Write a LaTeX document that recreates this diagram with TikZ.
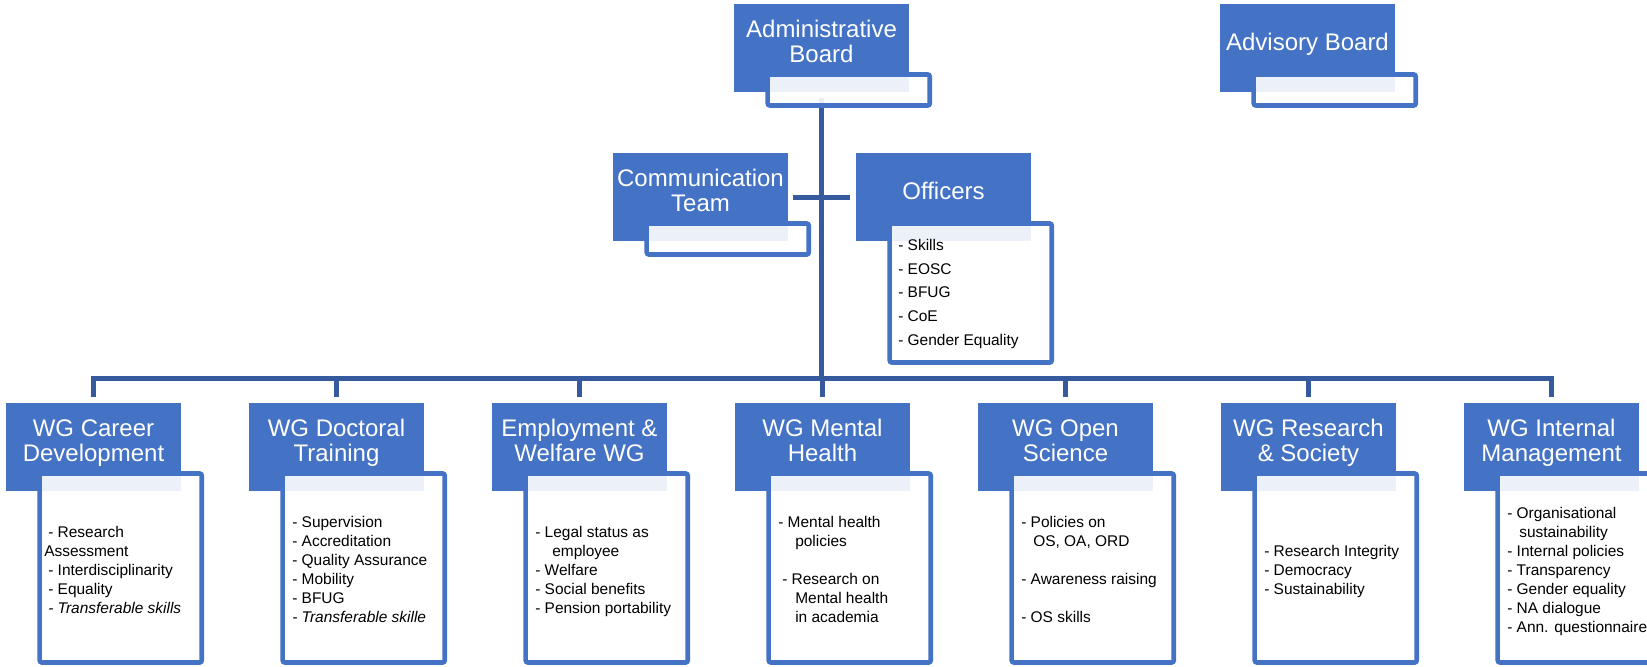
\documentclass[tikz,border=0pt]{standalone}
\usepackage{fontspec}
\setmainfont{Liberation Sans}
\definecolor{boxblue}{HTML}{4472C4}
\definecolor{lineblue}{HTML}{365A9E}
\pgfdeclarelayer{bg}
\pgfsetlayers{bg,main}
\tikzset{
  conn/.style={draw=lineblue, line width=3.75pt},
  bluebox/.style={fill=boxblue, draw=none, minimum width=131.25pt, minimum height=66pt, anchor=north west, inner sep=0pt, outer sep=0pt},
  whitebox/.style={draw=boxblue, line width=3.4pt, rounded corners=1.5pt, minimum width=121.5pt, anchor=north west, inner sep=0pt, outer sep=0pt},
  smallh/.style={minimum height=23.25pt},
  wgh/.style={minimum height=141.75pt},
  offh/.style={minimum height=104.25pt},
  title/.style={text=white, font=\fontsize{18}{18.75}\selectfont, align=center, inner sep=0pt},
  body/.style={font=\fontsize{11.6}{14.25}\selectfont, align=left, anchor=north west, inner sep=0pt},
  veil/.style={fill=white, opacity=0.9},
}
\newcommand\myveil[1]{\fill[veil] ([shift={(2.3,2.3)}]#1.north west) rectangle ([shift={(-2.3,-2.3)}]#1.south east);}
\newcommand\mydesc{\vphantom{p}}
\begin{document}
\begin{tikzpicture}[x=0.75pt,y=-0.75pt]
\useasboundingbox (0,0) rectangle (1647,667);
\clip (0,0) rectangle (1647,667);

% white boxes
\node[whitebox,smallh] (adminw) at (734+33.75,4+70.5) {};
\node[whitebox,smallh] (advw) at (1220+33.75,4+70.5) {};
\node[whitebox,smallh] (commw) at (613+33.75,153+70.5) {};
\node[whitebox,offh] (offw) at (856+33.75,153+70.5) {};
\node[whitebox,wgh] (wg1w) at (6+33.75,403+70.5) {};
\node[whitebox,wgh] (wg2w) at (249+33.75,403+70.5) {};
\node[whitebox,wgh] (wg3w) at (492+33.75,403+70.5) {};
\node[whitebox,wgh] (wg4w) at (735+33.75,403+70.5) {};
\node[whitebox,wgh] (wg5w) at (978+33.75,403+70.5) {};
\node[whitebox,wgh] (wg6w) at (1221+33.75,403+70.5) {};
\node[whitebox,wgh] (wg7w) at (1464+33.75,403+70.5) {};

% blue boxes
\node[bluebox] (admin) at (734,4) {};
\node[bluebox] (adv) at (1220,4) {};
\node[bluebox] (comm) at (613,153) {};
\node[bluebox] (off) at (856,153) {};
\node[bluebox] (wg1) at (6,403) {};
\node[bluebox] (wg2) at (249,403) {};
\node[bluebox] (wg3) at (492,403) {};
\node[bluebox] (wg4) at (735,403) {};
\node[bluebox] (wg5) at (978,403) {};
\node[bluebox] (wg6) at (1221,403) {};
\node[bluebox] (wg7) at (1464,403) {};

% veils
\myveil{adminw}\myveil{advw}\myveil{commw}\myveil{offw}
\myveil{wg1w}\myveil{wg2w}\myveil{wg3w}\myveil{wg4w}\myveil{wg5w}\myveil{wg6w}\myveil{wg7w}

% connectors
\begin{pgfonlayer}{bg}
\coordinate (bus) at (821.5,378);
\draw[conn] ([yshift=-4.5pt]admin.south) -- (bus);
\draw[conn] ([xshift=3.75pt]comm.east) -- ([xshift=-4.5pt]off.west);
\draw[conn] ([yshift=4.5pt]wg1.north) |- (bus) -| ([yshift=4.5pt]wg7.north);
\draw[conn] ([yshift=4.5pt]wg2.north) -- (wg2.north |- bus);
\draw[conn] ([yshift=4.5pt]wg3.north) -- (wg3.north |- bus);
\draw[conn] ([yshift=4.5pt]wg4.north) -- (wg4.north |- bus);
\draw[conn] ([yshift=4.5pt]wg5.north) -- (wg5.north |- bus);
\draw[conn] ([yshift=4.5pt]wg6.north) -- (wg6.north |- bus);
\end{pgfonlayer}

% titles
\node[title] (admint) at ([yshift=-30pt]admin.north) {Administrative\\Board\mydesc};
\node[title] (advt) at ([yshift=-30pt]adv.north) {Advisory Board\mydesc};
\node[title] (commt) at ([yshift=-30pt]comm.north) {Communication\\Team\mydesc};
\node[title] (offt) at ([yshift=-30pt]off.north) {Officers\mydesc};
\node[title] (wg1t) at ([yshift=-30pt]wg1.north) {WG Career\\Development\mydesc};
\node[title] (wg2t) at ([yshift=-30pt]wg2.north) {WG Doctoral\\Training\mydesc};
\node[title] (wg3t) at ([yshift=-30pt]wg3.north) {Employment \&\\Welfare WG\mydesc};
\node[title] (wg4t) at ([yshift=-30pt]wg4.north) {WG Mental\\Health\mydesc};
\node[title] (wg5t) at ([yshift=-30pt]wg5.north) {WG Open\\Science\mydesc};
\node[title] (wg6t) at ([yshift=-30pt]wg6.north) {WG Research\\\& Society\mydesc};
\node[title] (wg7t) at ([yshift=-30pt]wg7.north) {WG Internal\\Management\mydesc};

% body texts
\node[body, font=\fontsize{11.6}{17.8}\selectfont] (offb) at (898,239) {- Skills\\- EOSC\\- BFUG\\- CoE\\- Gender Equality};
\node[body] (wg1b) at (44,526) {\hspace*{3pt}- Research\\Assessment\\\hspace*{3pt}- Interdisciplinarity\\\hspace*{3pt}- Equality\\\hspace*{3pt}\textit{- Transferable skills}};
\node[body] (wg2b) at (292,516) {- Supervision\\- Accreditation\\- Quality Assurance\\- Mobility\\- BFUG\\\textit{- Transferable skille}};
\node[body] (wg3b) at (535,526) {- Legal status as\\\hspace*{12.75pt}employee\\- Welfare\\- Social benefits\\- Pension portability};
\node[body] (wg4b) at (778,516) {- Mental health\\\hspace*{12.75pt}policies\\[14.25pt]\hspace*{3pt}- Research on\\\hspace*{12.75pt}Mental health\\\hspace*{12.75pt}in academia};
\node[body] (wg5b) at (1021,516) {- Policies on\\\hspace*{9pt}OS, OA, ORD\\[14.25pt]- Awareness raising\\[14.25pt]- OS skills};
\node[body] (wg6b) at (1264,545) {- Research Integrity\\- Democracy\\- Sustainability};
\node[body] (wg7b) at (1507,507) {- Organisational\\\hspace*{9pt}sustainability\\- Internal policies\\- Transparency\\- Gender equality\\- NA dialogue\\- Ann. questionnaire};
\end{tikzpicture}
\end{document}
